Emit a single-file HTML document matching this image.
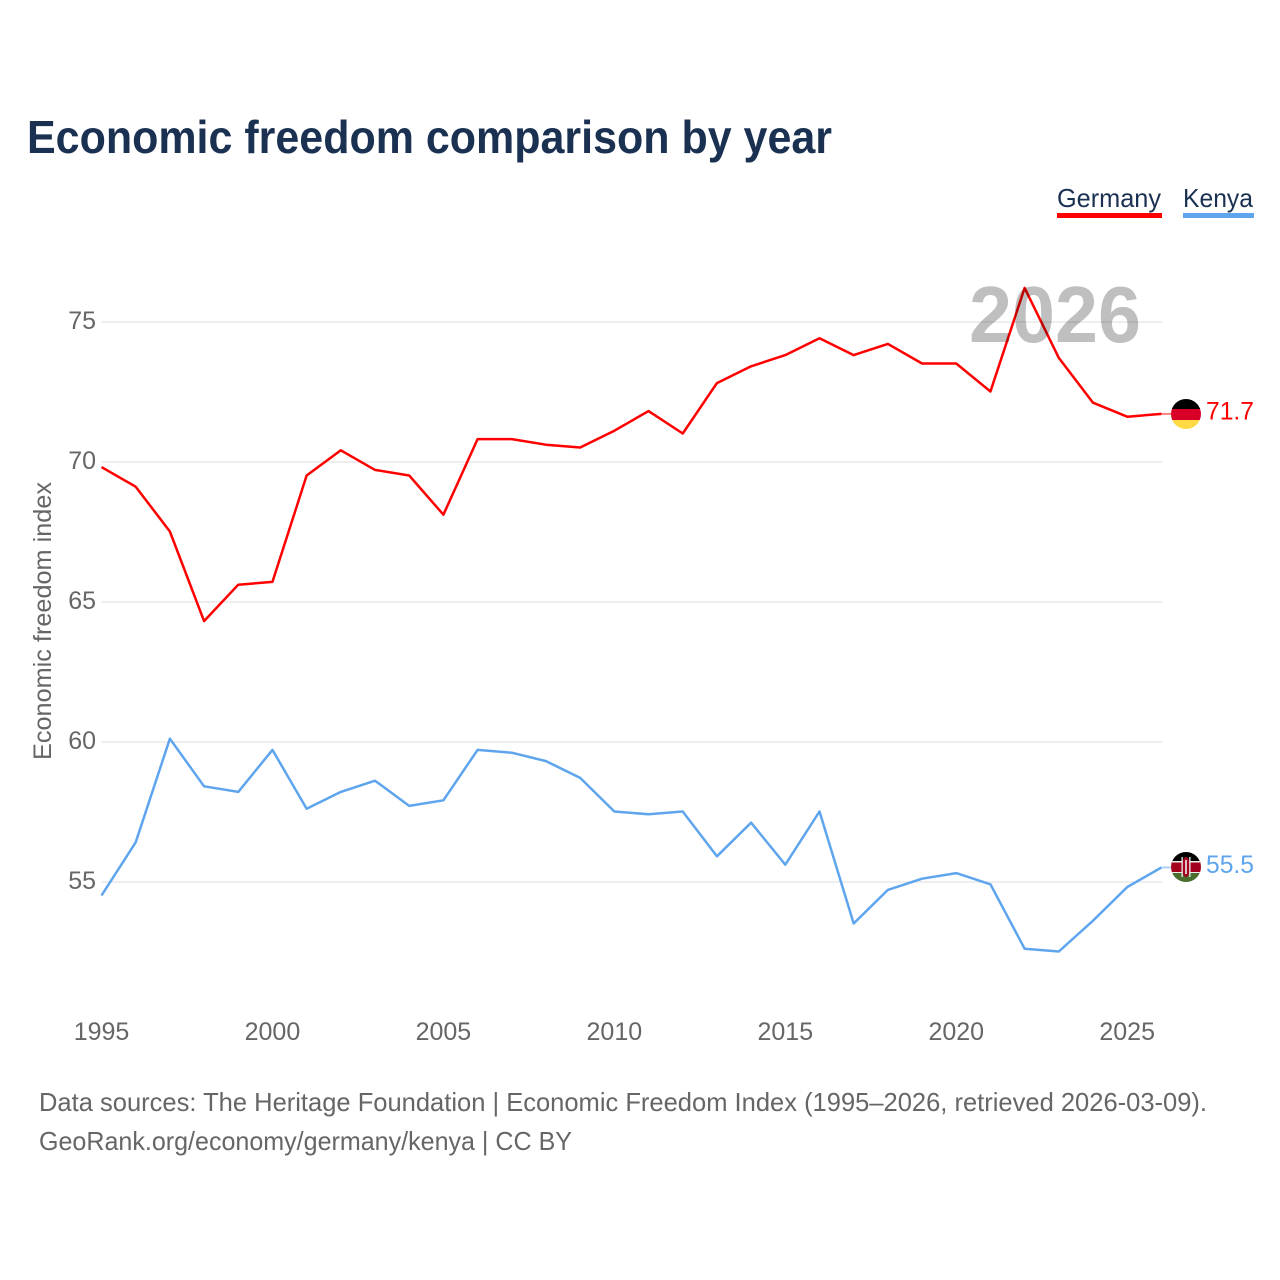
<!DOCTYPE html>
<html lang="en">
<head>
<meta charset="utf-8">
<title>Economic freedom comparison by year</title>
<style>
html,body{margin:0;padding:0;background:#fff;width:1280px;height:1280px;overflow:hidden}
svg{display:block}
text{font-family:"Liberation Sans",sans-serif}
</style>
</head>
<body>
<svg id="chart" width="1280" height="1280" viewBox="0 0 1280 1280" xmlns="http://www.w3.org/2000/svg">
  <defs>
    <clipPath id="flag-clip-de"><circle cx="1186" cy="414" r="15"></circle></clipPath>
    <clipPath id="flag-clip-ke"><circle cx="1186" cy="867" r="15"></circle></clipPath>
  </defs>
  <rect width="1280" height="1280" fill="#fff"></rect>
  <text x="27" y="153" font-size="46" font-weight="700" fill="#1a3152" textLength="805" lengthAdjust="spacingAndGlyphs">Economic freedom comparison by year</text>

  <text x="1057" y="207" font-size="26" fill="#1a3152" textLength="104" lengthAdjust="spacingAndGlyphs">Germany</text>
  <rect x="1057" y="213" width="105" height="5" fill="#ff0000"></rect>
  <text x="1183" y="207" font-size="26" fill="#1a3152" textLength="70" lengthAdjust="spacingAndGlyphs">Kenya</text>
  <rect x="1183" y="213" width="71" height="5" fill="#5ea5ee"></rect>

  <g id="grid"></g>
  <g id="y-ticks"></g>
  <g id="x-ticks"></g>
  <text transform="translate(51,760) rotate(-90)" font-size="25" fill="#666" textLength="278" lengthAdjust="spacingAndGlyphs">Economic freedom index</text>

  <g id="series" transform="translate(0,-0.5)"></g>

  <g id="flag-germany" clip-path="url(#flag-clip-de)">
    <rect x="1171" y="399" width="30" height="10" fill="#000"></rect>
    <rect x="1171" y="409" width="30" height="11" fill="#d80027"></rect>
    <rect x="1171" y="420" width="30" height="10" fill="#ffda44"></rect>
  </g>
  <g id="flag-kenya" clip-path="url(#flag-clip-ke)">
    <rect x="1171" y="852" width="30" height="11" fill="#000"></rect>
    <rect x="1171" y="861" width="30" height="12" fill="#a2001d"></rect>
    <rect x="1171" y="861" width="30" height="1.5" fill="#eee"></rect>
    <rect x="1171" y="872" width="30" height="1.5" fill="#eee"></rect>
    <rect x="1171" y="873" width="30" height="9" fill="#496e2d"></rect>
    <ellipse cx="1186" cy="867" rx="4" ry="10" fill="#a2001d"></ellipse>
    <rect x="1181.5" y="857" width="1.3" height="20" fill="#eee"></rect>
    <rect x="1189.2" y="857" width="1.3" height="20" fill="#eee"></rect>
    <rect x="1185.2" y="860" width="1.6" height="14" fill="#eee"></rect>
  </g>
  <g id="end-labels"></g>

  <text x="969" y="342" font-size="80" font-weight="700" fill="#000" fill-opacity="0.25" textLength="172" lengthAdjust="spacingAndGlyphs">2026</text>

  <text x="39" y="1111" font-size="26" fill="#666" textLength="1168" lengthAdjust="spacingAndGlyphs">Data sources: The Heritage Foundation | Economic Freedom Index (1995–2026, retrieved 2026-03-09).</text>
  <text x="39" y="1150" font-size="26" fill="#666" textLength="533" lengthAdjust="spacingAndGlyphs">GeoRank.org/economy/germany/kenya | CC BY</text>
</svg>
<script>
const years = [1995,1996,1997,1998,1999,2000,2001,2002,2003,2004,2005,2006,2007,2008,2009,2010,2011,2012,2013,2014,2015,2016,2017,2018,2019,2020,2021,2022,2023,2024,2025,2026];
const germanyValues = [69.8,69.1,67.5,64.3,65.6,65.7,69.5,70.4,69.7,69.5,68.1,70.8,70.8,70.6,70.5,71.1,71.8,71.0,72.8,73.4,73.8,74.4,73.8,74.2,73.5,73.5,72.5,76.2,73.7,72.1,71.6,71.7];
const kenyaValues = [54.5,56.4,60.1,58.4,58.2,59.7,57.6,58.2,58.6,57.7,57.9,59.7,59.6,59.3,58.7,57.5,57.4,57.5,55.9,57.1,55.6,57.5,53.5,54.7,55.1,55.3,54.9,52.6,52.5,53.6,54.8,55.5];
const yTickValues = [55,60,65,70,75];
const xTickValues = [1995,2000,2005,2010,2015,2020,2025];

const NS = 'http://www.w3.org/2000/svg';
function xScale(year){ return 101.5 + (year - 1995) * 34.19; }
function yScale(value){ return 322 + (75 - value) * 28; }
function make(tag, attrs, text){
  const el = document.createElementNS(NS, tag);
  for (const k in attrs) el.setAttribute(k, attrs[k]);
  if (text !== undefined) el.textContent = text;
  return el;
}
const gridG = document.getElementById('grid');
const yG = document.getElementById('y-ticks');
const xG = document.getElementById('x-ticks');
const seriesG = document.getElementById('series');
const labelG = document.getElementById('end-labels');

yTickValues.forEach(function(v){
  const line = make('line', {x1: xScale(1995), x2: 1162, y1: yScale(v), y2: yScale(v), stroke: '#eeeeee', 'stroke-width': 2});
  
  
  gridG.appendChild(line);
  const label = make('text', {x: 96, y: yScale(v) + 7, 'text-anchor': 'end', 'font-size': 25, fill: '#666'}, String(v));
  
  
  yG.appendChild(label);
});
xTickValues.forEach(function(v){
  const label = make('text', {x: xScale(v), y: 1040, 'text-anchor': 'middle', 'font-size': 25, fill: '#666'}, String(v));
  
  
  xG.appendChild(label);
});
function drawSeries(values, color, lineName, labelName){
  const pts = values.map(function(v, i){ return xScale(years[i]).toFixed(2) + ',' + yScale(v).toFixed(2); });
  const last = values[values.length - 1];
  const line = make('polyline', {points: pts.join(' '), fill: 'none', stroke: color, 'stroke-width': 2.5, 'stroke-linejoin': 'round'});
  
  
  seriesG.appendChild(line);
  const lead = make('line', {x1: xScale(2026), x2: 1172, y1: yScale(last), y2: yScale(last), stroke: color, 'stroke-width': 2, 'stroke-opacity': 0.5});
  
  
  seriesG.appendChild(lead);
  const label = make('text', {x: 1206, y: yScale(last) + 5, 'font-size': 25, fill: color, textLength: 48, lengthAdjust: 'spacingAndGlyphs'}, last.toFixed(1));
  
  
  labelG.appendChild(label);
}
drawSeries(germanyValues, '#ff0000', 'germany-line', 'germany-end-value');
drawSeries(kenyaValues, '#5ea5ee', 'kenya-line', 'kenya-end-value');
</script>
</body>
</html>
